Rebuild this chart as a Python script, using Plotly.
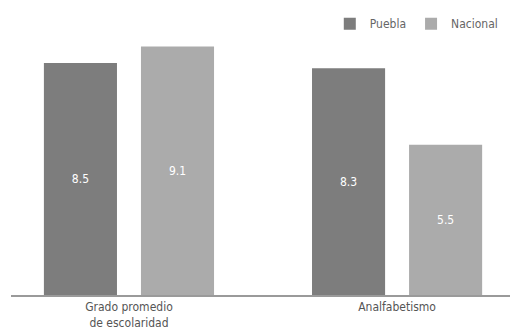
import plotly.graph_objects as go

categories = ["Grado promedio<br>de escolaridad", "Analfabetismo"]
puebla = [8.5, 8.3]
nacional = [9.1, 5.5]
series_names = ["Puebla", "Nacional"]

FONT = "DejaVu Sans Condensed, Liberation Sans Narrow, Roboto, sans-serif"

fig = go.Figure()
fig.add_trace(go.Bar(
    x=categories, y=puebla, name=series_names[0],
    marker=dict(color="#7d7d7d", line=dict(width=0)),
    text=[f"{v:.1f}" for v in puebla], textposition="inside",
    insidetextanchor="middle",
    textfont=dict(color="white", size=12, family=FONT),
))
fig.add_trace(go.Bar(
    x=categories, y=nacional, name=series_names[1],
    marker=dict(color="#ababab", line=dict(width=0)),
    text=[f"{v:.1f}" for v in nacional], textposition="inside",
    insidetextanchor="middle",
    textfont=dict(color="white", size=12, family=FONT),
))

fig.update_layout(
    width=510, height=325,
    margin=dict(l=3, r=0, t=0, b=38, autoexpand=False),
    paper_bgcolor="white", plot_bgcolor="white",
    barmode="group", bargap=0.276, bargroupgap=0.247,
    font=dict(family=FONT, color="#555555", size=12),
    showlegend=True,
    legend=dict(orientation="h", x=0.97, xanchor="right", y=0.945, yanchor="middle",
                font=dict(size=12, color="#666666", family=FONT),
                bgcolor="rgba(0,0,0,0)"),
    xaxis=dict(range=[-0.440, 1.451], showline=True, linecolor="#9a9a9a", linewidth=1.5,
               ticks="", showgrid=False, zeroline=False, automargin=False,
               tickfont=dict(size=12, color="#555555", family=FONT)),
    yaxis=dict(range=[0, 10.51], visible=False, showgrid=False, zeroline=False),
    uniformtext=dict(minsize=8, mode="show"),
)

fig.write_html("out.html")
